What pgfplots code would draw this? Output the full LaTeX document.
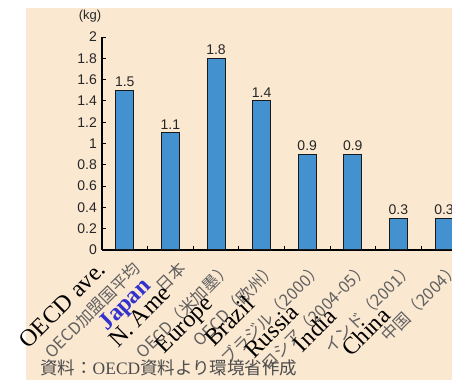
\documentclass[border=0pt]{standalone}
\usepackage{pgfplots}
\pgfplotsset{compat=1.18}
\usepackage{fontspec}
\setmainfont{Liberation Serif}
\newfontfamily\cjk{Noto Sans CJK JP}
\newfontfamily\arialsans{Liberation Sans}
\definecolor{cream}{RGB}{251,232,209}
\definecolor{barblue}{RGB}{67,146,207}
\definecolor{jpblue}{RGB}{51,51,204}

\begin{document}
\begin{tikzpicture}[x=1pt,y=1pt]
\useasboundingbox (0,0) rectangle (452,380);
\fill[white] (0,0) rectangle (452,380);
\fill[cream] (26,0) rectangle (452,372);
\begin{scope}
\clip (0,0) rectangle (452,380);
\begin{axis}[
  at={(102pt,130pt)}, anchor=south west, scale only axis,
  width=364.8pt, height=213pt,
  xmin=-0.5, xmax=7.5, ymin=0, ymax=2,
  axis lines=left,
  axis line style={-, line width=1.1pt, black},
  ybar, bar width=18pt,
  ytick={0,0.2,0.4,0.6,0.8,1,1.2,1.4,1.6,1.8,2},
  xtick={0,1,2,3,4,5,6,7},
  minor xtick={0.5,1.5,2.5,3.5,4.5,5.5,6.5},
  xticklabels={OECD加盟国平均, 日本, OECD（米加墨）, OECD（欧州）,
    ブラジル（2000）, ロシア（2004-05）, インド（2001）, 中国（2004）},
  tick align=inside,
  x tick style={draw=none},
  minor x tick style={draw=black, line width=0.8pt},
  minor tick length=4pt,
  major tick length=4pt,
  y tick style={black, line width=0.8pt},
  /pgf/number format/assume math mode=true,
  /pgf/number format/.cd, fixed, precision=1, /pgfplots/.cd,
  yticklabel style={font=\arialsans\fontsize{14}{14}\selectfont,
    text=black!85, anchor=east, inner sep=0pt, xshift=-5pt},
  xticklabel style={xshift=7pt, yshift=-10pt, rotate=45, anchor=north east,
    inner sep=0pt, font=\cjk\fontsize{16.5}{16.5}\selectfont, text=black!62},
  nodes near coords,
  every node near coord/.append style={
    font=\arialsans\fontsize{14}{14}\selectfont, text=black!85},
]
\addplot[fill=barblue, draw=black!90, line width=1pt]
  coordinates {(0,1.5) (1,1.1) (2,1.8) (3,1.4) (4,0.9) (5,0.9) (6,0.3) (7,0.3)};
\end{axis}
\end{scope}

% unit of the value axis
\node[font=\arialsans\fontsize{13}{13}\selectfont, text=black!85] at (90,364) {(kg)};

% English names written over the Japanese category labels
\begin{scope}[every node/.style={rotate=45, anchor=base east, inner sep=0pt,
    font=\fontsize{24}{24}\selectfont}]
\node at (107,109) {OECD ave.};
\node[text=jpblue, font=\bfseries\fontsize{24}{24}\selectfont] at (152,93) {Japan};
\node at (172,85) {N. Ame};
\node at (214,75) {Europe};
\node at (256,74) {Brazil};
\node at (300,66) {Russia};
\node at (338,62) {India};
\node at (392,63) {China};
\end{scope}

% source line
\node[anchor=west, inner sep=0pt, text=black!70,
  font=\cjk\fontsize{17.5}{17.5}\selectfont] at (40,12)
  {資料：{\rmfamily OECD}資料より環境省作成};
\end{tikzpicture}
\end{document}
